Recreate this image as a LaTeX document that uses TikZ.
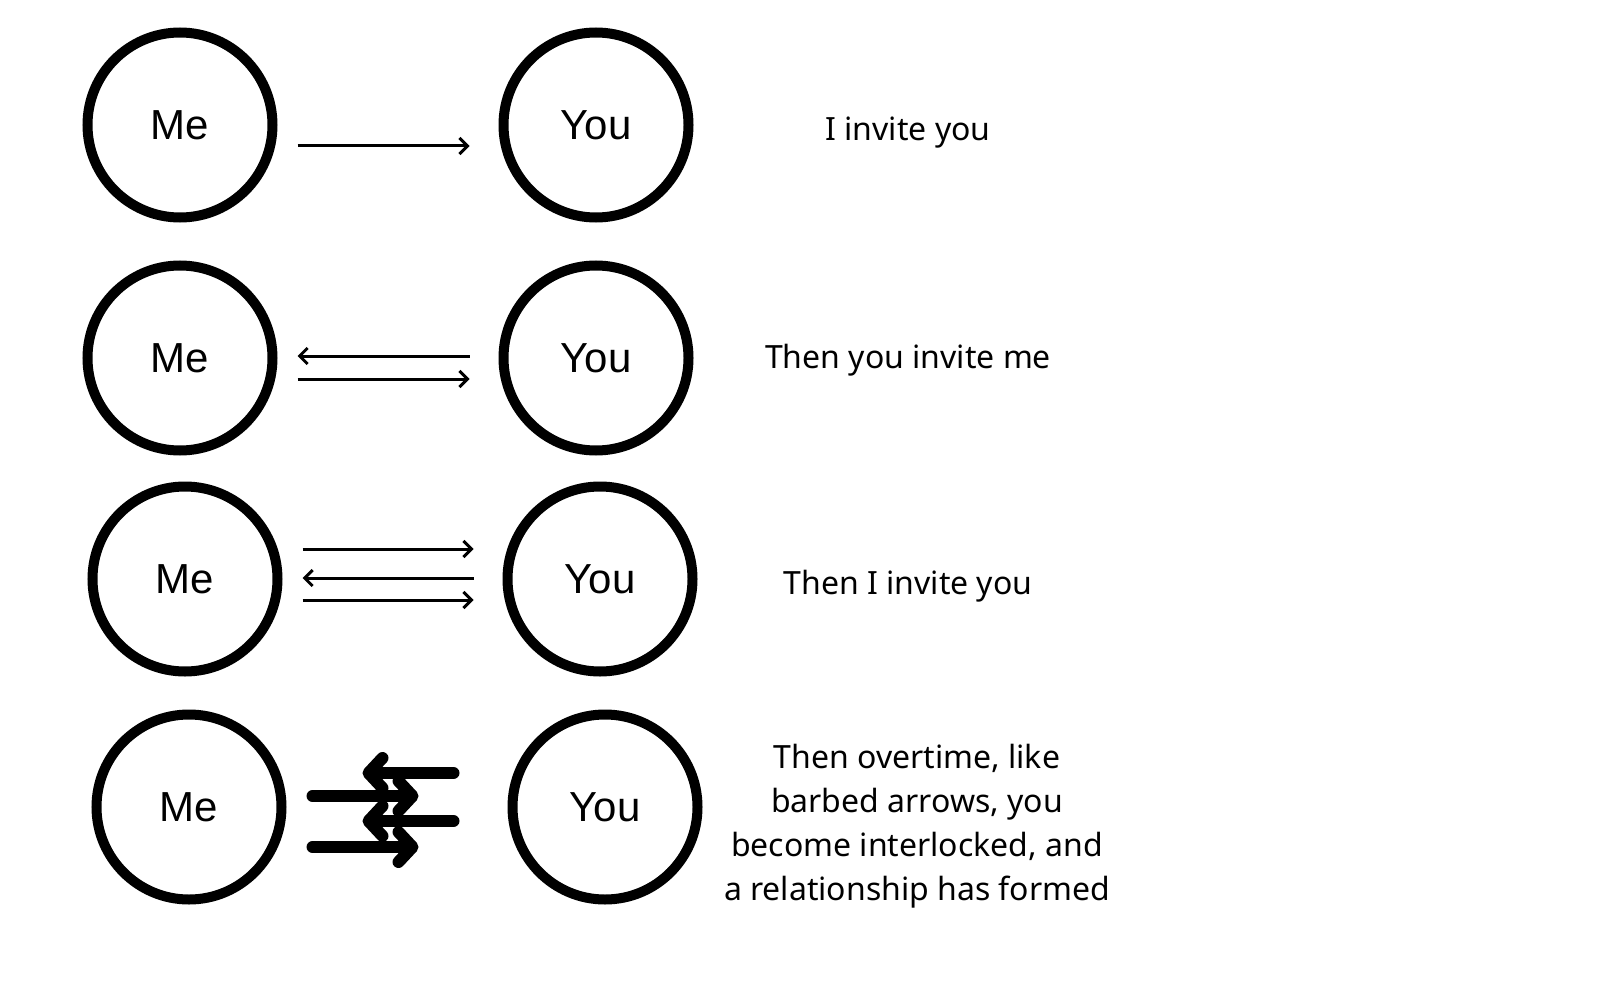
\documentclass[tikz,border=0pt]{standalone}
\usepackage{fontspec}
\setmainfont{Noto Sans}
\newfontfamily\circlefont{Liberation Sans}
\usepackage{tikz}
\usetikzlibrary{arrows.meta,positioning}
\tikzset{
  person/.style={circle,draw=black,line width=5pt,minimum size=92.5pt,inner sep=0pt,
                 font=\circlefont\fontsize{21}{24}\selectfont},
  flow/.style={-{Straight Barb[length=4pt,width=8pt]},line width=1.5pt,draw=black},
  barb/.style={-{Straight Barb[length=7pt,width=15pt,round]},line width=6pt,draw=black,line cap=round},
  caption/.style={anchor=base,inner sep=0pt,font=\fontsize{16}{22}\selectfont}
}
\begin{document}
\begin{tikzpicture}[x=0.5pt,y=-0.5pt]
  \useasboundingbox (0,0) rectangle (1600,1000);
  % row 1
  \node[person] (me1) at (180,125) {Me};
  \node[person] (you1) at (596,125) {You};
  \draw[flow] ([shift={(20,21)}]me1.east) -- ([shift={(-29,21)}]you1.west);
  \node[caption] (txt1) at (908,141) {I invite you};
  % row 2
  \node[person] (me2) at (180,358) {Me};
  \node[person] (you2) at (596,358) {You};
  \draw[flow] ([shift={(-29,-2)}]you2.west) -- ([shift={(20,-2)}]me2.east);
  \draw[flow] ([shift={(20,21)}]me2.east) -- ([shift={(-29,21)}]you2.west);
  \node[caption] (txt2) at (908,368) {Then you invite me};
  % row 3
  \node[person] (me3) at (185,579) {Me};
  \node[person] (you3) at (600,579) {You};
  \draw[flow] ([shift={(20,-30)}]me3.east) -- ([shift={(-29,-30)}]you3.west);
  \draw[flow] ([shift={(-29,-1)}]you3.west) -- ([shift={(20,-1)}]me3.east);
  \draw[flow] ([shift={(20,21)}]me3.east) -- ([shift={(-29,21)}]you3.west);
  \node[caption] (txt3) at (908,594) {Then I invite you};
  % row 4
  \node[person] (me4) at (189,807) {Me};
  \node[person] (you4) at (605,807) {You};
  \draw[barb] ([shift={(26,-11)}]me4.east) -- ([shift={(-89,-11)}]you4.west);
  \draw[barb] ([shift={(26,40)}]me4.east) -- ([shift={(-89,40)}]you4.west);
  \draw[barb] ([shift={(-54,-34)}]you4.west) -- ([shift={(76,-34)}]me4.east);
  \draw[barb] ([shift={(-54,14)}]you4.west) -- ([shift={(76,14)}]me4.east);
  \node[caption,anchor=center,align=center] (txt4) at (917,826)
    {Then overtime, like\\barbed arrows, you\\become interlocked, and\\a relationship has formed};
\end{tikzpicture}
\end{document}
